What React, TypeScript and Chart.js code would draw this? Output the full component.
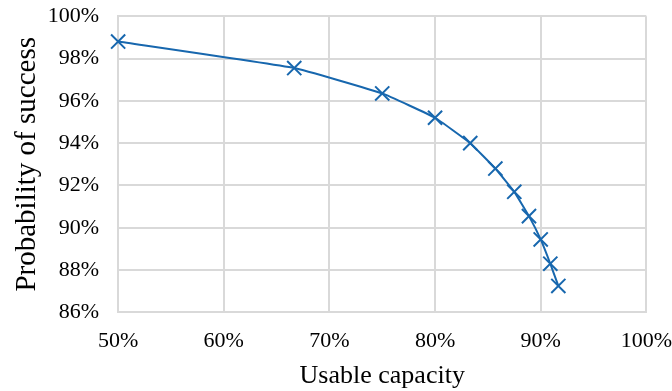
import React, { useEffect, useRef } from "react";
import { Chart, registerables } from "chart.js";

Chart.register(...registerables);

// Usable capacity (%) for each configuration
const usableCapacity: number[] = [50, 66.67, 75, 80, 83.33, 85.71, 87.5, 88.89, 90, 90.91, 91.67];
// Probability of success (%) at each capacity
const successProbability: number[] = [98.8, 97.55, 96.35, 95.2, 94.0, 92.8, 91.7, 90.55, 89.45, 88.3, 87.25];

const xTicks: number[] = [50, 60, 70, 80, 90, 100];
const yTicks: number[] = [86, 88, 90, 92, 94, 96, 98, 100];

const LINE_COLOR = "#1767ae";
const GRID_COLOR = "#d9d9d9";
const FONT = "'Liberation Serif', 'Times New Roman', serif";

export default function App() {
  const canvasRef = useRef<HTMLCanvasElement | null>(null);

  useEffect(() => {
    const canvas = canvasRef.current;
    if (!canvas) return;
    const points = usableCapacity.map((x, i) => ({ x, y: successProbability[i] }));
    const chart = new Chart(canvas, {
      type: "line",
      data: {
        datasets: [
          {
            data: points,
            borderColor: LINE_COLOR,
            backgroundColor: LINE_COLOR,
            borderWidth: 2,
            pointStyle: "crossRot",
            pointRadius: 10,
            pointBorderWidth: 2,
            pointBorderColor: LINE_COLOR,
            tension: 0.1,
            fill: false,
            clip: false,
          },
        ],
      },
      options: {
        animation: false,
        responsive: false,
        maintainAspectRatio: false,
        layout: { padding: { left: 0, right: 0, top: 0, bottom: 2 } },
        plugins: { legend: { display: false }, tooltip: { enabled: false } },
        scales: {
          x: {
            type: "linear",
            min: 50,
            max: 100,
            afterBuildTicks: (axis: any) => {
              axis.ticks = xTicks.map((v) => ({ value: v }));
            },
            grid: { color: GRID_COLOR, lineWidth: 2, drawTicks: false },
            border: { color: GRID_COLOR, width: 2 },
            ticks: {
              color: "#000",
              font: { family: FONT, size: 22 },
              padding: 16,
              maxRotation: 0,
              callback: (v: any) => `${v}%`,
            },
            title: {
              display: true,
              text: "Usable capacity",
              color: "#000",
              font: { family: FONT, size: 26 },
              padding: { top: -10, bottom: 0 },
            },
          },
          y: {
            type: "linear",
            min: 86,
            max: 100,
            afterBuildTicks: (axis: any) => {
              axis.ticks = yTicks.map((v) => ({ value: v }));
            },
            grid: { color: GRID_COLOR, lineWidth: 2, drawTicks: false },
            border: { color: GRID_COLOR, width: 2 },
            ticks: {
              color: "#000",
              font: { family: FONT, size: 22 },
              padding: 19,
              callback: (v: any) => `${v}%`,
            },
            title: {
              display: true,
              text: "Probability of success",
              color: "#000",
              font: { family: FONT, size: 29 },
              padding: { top: 0, bottom: -16 },
            },
          },
        },
      },
    });
    return () => chart.destroy();
  }, []);

  return (
    <div style={{ position: "absolute", left: 0, top: 0, width: 672, height: 391, background: "#fff", overflow: "hidden" }}>
      <canvas
        ref={canvasRef}
        width={678}
        height={410}
        style={{ display: "block", position: "absolute", left: 10, top: -16 }}
      />
    </div>
  );
}
